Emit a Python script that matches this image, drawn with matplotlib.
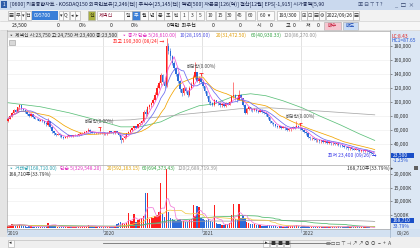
import numpy as np
import pandas as pd
import matplotlib
matplotlib.use("Agg")
import matplotlib.pyplot as plt
from matplotlib.patches import Rectangle

plt.rcParams["font.family"] = ["Noto Sans CJK KR", "DejaVu Sans"]

# ----------------------------
# DATA  (weekly bars from 2019-01-21, prices in thousand won, volume in K shares)
# ----------------------------

start_date = "2019-01-21"

open_k = [72, 76, 80, 84, 88, 86, 92, 95, 90, 88,
          85, 83, 80, 82, 78, 76, 75, 73, 74, 72,
          70, 67, 72, 64, 58, 55, 53, 54, 52, 50,
          49, 50, 51, 52, 51, 52, 53, 52, 54, 55,
          56, 57, 58, 60, 57, 56, 55, 56, 55, 56,
          55, 55, 54, 56, 58, 57, 55, 58, 56, 52,
          45, 48, 50, 55, 57, 60, 62, 65, 63, 68,
          70, 72, 86, 82, 92, 95, 98, 103, 110, 120,
          126, 138, 128, 123, 180, 172, 165, 155, 148, 140,
          130, 118, 112, 120, 115, 110, 120, 125, 135, 142,
          130, 134, 128, 122, 115, 108, 100, 98, 96, 102,
          100, 98, 95, 97, 94, 98, 96, 100, 108, 110,
          105, 103, 110, 105, 96, 84, 90, 92, 89, 88,
          90, 87, 86, 88, 85, 84, 82, 78, 72, 70,
          68, 66, 64, 65, 63, 64, 62, 60, 61, 62,
          64, 63, 66, 63, 62, 60, 57, 55, 50, 48,
          49, 47, 45, 46, 44, 45, 43, 44, 42, 43,
          41, 42, 40, 41, 39, 38, 37, 36, 35, 34,
          35, 33, 32, 33, 31, 30, 31, 29.5, 31, 30,
          28, 27, 23.75]

high_k = [77, 81, 86, 89, 90, 93, 97, 95, 91, 89,
          86, 84, 83, 83, 79, 77, 76, 75, 75, 73,
          71, 77, 73, 65, 59, 56, 55, 55, 53, 51,
          51, 52, 53, 53, 53, 54, 54, 55, 56, 57,
          58, 59, 63, 61, 58, 57, 57, 57, 57, 57,
          57, 56, 57, 59, 59, 58, 59, 59, 57, 53,
          49, 52, 56, 58, 61, 63, 66, 66, 69, 71,
          74, 88, 89, 94, 97, 100, 106, 114, 124, 129,
          141, 140, 131, 190.3, 184, 176, 167, 158, 150, 142,
          131, 120, 124, 121, 117, 122, 128, 138, 157, 143,
          137, 135, 131, 123, 116, 109, 102, 100, 104, 103,
          101, 99, 98, 98, 99, 99, 101, 110, 128, 111,
          106, 117, 111, 106, 97, 91, 94, 93, 90, 91,
          91, 88, 89, 89, 86, 85, 83, 79, 73, 71,
          69, 67, 66, 66, 65, 65, 63, 62, 63, 65,
          65, 73, 67, 64, 63, 61, 58, 56, 51, 50,
          50, 48, 47, 47, 46, 46, 45, 45, 44, 44,
          43, 43, 42, 42, 40, 39, 38, 37, 36, 36,
          36, 34, 34, 34, 32, 32, 32, 32, 32, 31,
          29, 28, 24.75]

low_k = [71, 75, 79, 83, 85, 85, 89, 88, 87, 84,
         81, 79, 79, 77, 75, 74, 72, 72, 71, 69,
         66, 66, 62, 56, 53, 51, 52, 50, 48, 47,
         48, 49, 50, 50, 50, 51, 51, 51, 53, 54,
         55, 56, 57, 56, 55, 54, 54, 54, 54, 54,
         53, 53, 53, 55, 56, 54, 54, 55, 51, 41,
         43, 47, 49, 54, 56, 59, 61, 62, 62, 67,
         69, 71, 80, 80, 90, 93, 97, 102, 108, 118,
         124, 126, 120, 121, 168, 160, 152, 145, 136, 127,
         114, 108, 110, 112, 107, 108, 118, 123, 132, 128,
         127, 126, 120, 112, 105, 97, 95, 94, 94, 98,
         96, 93, 93, 92, 93, 95, 95, 99, 106, 103,
         100, 102, 103, 94, 82, 83, 88, 87, 86, 87,
         86, 84, 85, 84, 83, 80, 76, 70, 68, 66,
         64, 62, 63, 61, 62, 60, 58, 58, 59, 61,
         61, 62, 62, 60, 58, 55, 53, 48, 46, 46,
         45, 43, 43, 42, 42, 41, 41, 40, 40, 39,
         39, 38, 38, 37, 36, 35, 34, 33, 32, 32,
         32, 31, 31, 30, 29, 29, 28, 28.5, 29, 27,
         26, 24.5, 23.4]

close_k = [76, 80, 84, 88, 86, 92, 95, 90, 88, 85,
           83, 80, 82, 78, 76, 75, 73, 74, 72, 70,
           68, 72, 64, 58, 55, 53, 54, 52, 50, 49,
           50, 51, 52, 51, 52, 53, 52, 54, 55, 56,
           57, 58, 60, 57, 56, 55, 56, 55, 56, 55,
           55, 54, 56, 58, 57, 55, 58, 56, 52, 45,
           48, 50, 55, 57, 60, 62, 65, 63, 68, 70,
           72, 86, 82, 92, 95, 98, 103, 110, 120, 126,
           138, 128, 122, 180, 172, 165, 155, 148, 140, 130,
           118, 112, 120, 115, 110, 120, 125, 135, 142, 130,
           134, 128, 122, 115, 108, 100, 98, 96, 102, 100,
           98, 95, 97, 94, 98, 96, 100, 108, 110, 105,
           103, 110, 105, 96, 84, 90, 92, 89, 88, 90,
           87, 86, 88, 85, 84, 82, 78, 72, 70, 68,
           66, 64, 65, 63, 64, 62, 60, 61, 62, 64,
           63, 66, 63, 62, 60, 57, 55, 50, 48, 49,
           47, 45, 46, 44, 45, 43, 44, 42, 43, 41,
           42, 40, 41, 39, 38, 37, 36, 35, 34, 35,
           33, 32, 33, 31, 30, 31, 29.5, 31, 30, 28,
           27, 25, 23.5]

volume_k = [900, 1200, 1500, 1400, 1100, 1300, 1800, 1200, 900, 800,
            700, 800, 900, 700, 600, 650, 700, 600, 650, 700,
            800, 2200, 1300, 1400, 1000, 800, 700, 600, 650, 700,
            600, 550, 600, 500, 550, 600, 500, 650, 700, 900,
            800, 900, 1400, 1000, 800, 700, 600, 550, 650, 700,
            600, 500, 600, 700, 600, 550, 900, 1500, 2000, 2300,
            2100, 1800, 2200, 5800, 3000, 2800, 5300, 2500, 3200, 3500,
            3800, 4600, 13150, 13000, 3500, 4300, 4000, 4500, 4800, 6000,
            16800, 5500, 4300, 22000, 6000, 3900, 3500, 3000, 2800, 3200,
            3600, 2900, 2600, 2500, 2400, 3000, 3500, 8600, 4500, 8400,
            8000, 3800, 3500, 3200, 3000, 3500, 2800, 2400, 8750, 2200,
            1800, 1500, 1400, 1300, 1600, 1800, 2000, 5000, 9000, 3500,
            3000, 9000, 3800, 4900, 3750, 2500, 2000, 1800, 1500, 1600,
            1400, 1300, 1200, 1100, 1000, 1100, 1300, 1200, 1000, 900,
            800, 700, 900, 800, 700, 650, 800, 900, 1000, 1100,
            900, 1300, 800, 700, 900, 1000, 800, 900, 700, 600,
            650, 600, 700, 550, 600, 500, 550, 500, 600, 550,
            600, 550, 600, 800, 700, 650, 600, 700, 750, 650,
            600, 700, 650, 750, 700, 650, 600, 700, 480, 420,
            330, 250, 168.71]

# long moving averages (bar index, thousand won)
ma60_idx = [0, 17, 32, 48, 59, 69, 80, 90, 100, 108, 119, 127, 135, 144, 154, 163, 174, 184, 192]
ma60_val = [98.6, 92.9, 84.3, 72.9, 64.3, 64.3, 71.4, 84.3, 94.3, 97.1, 108.6, 111.4, 108.6,
            101.4, 91.4, 80.0, 67.1, 54.3, 45.0]
ma120_idx = [47, 64, 80, 95, 106, 121, 137, 153, 169, 192]
ma120_val = [72.9, 74.3, 78.6, 82.9, 85.7, 90.0, 91.4, 88.6, 85.7, 81.4]

ex_div_dates = ["2019-12-27", "2020-12-30", "2021-12-29"]

price_ticks = [40000, 60000, 80000, 100000, 120000, 140000, 160000, 180000]
volume_ticks = [5000, 10000, 15000, 20000]

title_text = ("[0600] 키움종합차트 - KOSDAQ150 외국인보유[2,246(천)] 주식수[25,145(천)] "
              "액면[500] 자본금[126(억)] 결산[12월] EPS[-1,915] 시가총액[5,90")

price_header = "▫ 제넥신 시:23,750 고:24,750 저:23,400 종:23,500"
price_ma_labels = ["▫ 종가 단순 5(26,610.00)", "10(28,195.00)", "20(31,472.50)",
                   "60(40,930.33)", "120(86,270.00)"]
volume_ma_labels = ["▫ 거래량(168,710.00)", "단순 5(329,548.20)", "20(592,163.15)",
                    "60(694,373.43)", "120(2,689,719.39)"]

# ----------------------------
# LAYOUT / STYLE
# ----------------------------

W, H = 420, 248
BAR_X0, BAR_DX = 8.0, 1.91
PLOT_X0, PLOT_X1 = 7, 390
UP, DOWN = "#ff1e1e", "#2a6bd9"
MA_COL = {5: "#f05ad8", 10: "#6a6af0", 20: "#f2a400", 60: "#5cc07a", 120: "#a8a8a8"}
VMA_COL = {5: "#f07ad8", 20: "#f3c94a", 60: "#4cb86a", 120: "#a0a0a0"}
FS = 3.5


def px_axes(fig, x0, y0, x1, y1, z):
    ax = fig.add_axes([x0 / W, 1 - y1 / H, (x1 - x0) / W, (y1 - y0) / H])
    ax.set_zorder(z)
    return ax


def box(ax, x0, y0, x1, y1, fc, ec="none", lw=0.5):
    ax.add_patch(Rectangle((x0, y0), x1 - x0, y1 - y0, facecolor=fc, edgecolor=ec, linewidth=lw))


def txt(ax, x, y, s, size=FS, color="#202020", ha="left", **kw):
    ax.text(x, y, s, fontsize=size, color=color, ha=ha, va="center", **kw)


def btn(ax, x0, x1, label, fc="#fbfbfb", color="#303030", y0=11, y1=19.5):
    box(ax, x0, y0, x1, y1, fc, ec="#a9a9a9", lw=0.4)
    if label:
        txt(ax, (x0 + x1) / 2, (y0 + y1) / 2, label, 3.6, color, ha="center")


# ----------------------------
# WINDOW CHROME
# ----------------------------

def draw_chrome(bg):
    box(bg, 0, 0, W, H, "#f0f0f0")

    # title bar
    box(bg, 0, 0, W, 9.5, "#cad9ee")
    box(bg, 1, 1.2, 7, 8.2, "#2d5ca8")
    txt(bg, 4, 4.8, "1", 3.4, "white", ha="center")
    txt(bg, 9.5, 4.8, title_text, 3.75, "#15204a")
    txt(bg, 358, 4.8, "▣ ⊟ ⊤ T ?", 3.8, "#30406a")
    txt(bg, 395, 4.6, "_  □  ×", 4.0, "#30406a")

    # toolbar
    box(bg, 0, 9.5, W, 20.5, "#f2f2f2")
    btn(bg, 8, 14, "▦")
    btn(bg, 15, 21, "무")
    btn(bg, 21, 25, "▾")
    btn(bg, 26, 31, "전")
    box(bg, 32, 11, 58, 19.5, "#3b7fd8")
    txt(bg, 34, 15.2, "095700", 3.7, "white")
    btn(bg, 59, 63, "▾")
    btn(bg, 63, 69, "Q")
    btn(bg, 70, 75, "◂")
    btn(bg, 75, 80, "▸")
    btn(bg, 88, 95, "신", fc="#a9b040", color="#2b2b10")
    box(bg, 97, 11, 124, 19.5, "white", ec="#a9a9a9", lw=0.4)
    txt(bg, 99, 15.2, "제넥신", 3.7, "#8b1a3a")
    periods = ["일", "주", "월", "년", "분", "초", "틱", "1", "3", "5", "10", "15", "30", "45", "60"]
    centers = [128, 136, 144, 152, 160, 168, 176, 184, 192, 200, 210, 220, 230, 240, 250]
    for lab, c in zip(periods, centers):
        w = 7.5 if len(lab) == 1 else 9
        if lab == "주":
            btn(bg, c - w / 2, c + w / 2, lab, fc="#3b7fd8", color="white")
        else:
            btn(bg, c - w / 2, c + w / 2, lab)
    btn(bg, 257, 274, "60  ▾")
    box(bg, 277, 11, 299, 19.5, "white", ec="#a9a9a9", lw=0.4)
    txt(bg, 288, 15.2, "193/300", 3.6, "#202020", ha="center")
    for k, g in enumerate(["⊞", "⊡", "▤", "⚙"]):
        btn(bg, 301 + k * 6, 306.5 + k * 6, g)
    box(bg, 326, 11, 353, 19.5, "white", ec="#a9a9a9", lw=0.4)
    txt(bg, 339.5, 15.2, "2022/09/26", 3.6, "#202020", ha="center")
    btn(bg, 353, 359, "▤")

    # quote row
    box(bg, 0, 20.5, W, 30.5, "#f6f6f6")
    bg.plot([0, W], [20.7, 20.7], color="#c8c8c8", lw=0.4)
    bg.plot([0, W], [30.3, 30.3], color="#c8c8c8", lw=0.4)
    quote = [(12, "23,500"), (57, "0"), (79, "0%"), (110, "0"), (131, "0%"),
             (167, "0백만  최우선"), (212, "0"), (239, "0"), (257, "시"), (270, "0"),
             (286, "고"), (293, "0"), (306, "저"), (317, "0")]
    for x, s in quote:
        txt(bg, x, 25.8, s, 3.7, "#202020")
    btn(bg, 324, 341, "매수", fc="#f5c6d0", color="#c01030", y0=21.8, y1=29.5)
    btn(bg, 343, 358, "매도", fc="#c9dcf5", color="#1040b0", y0=21.8, y1=29.5)

    # left strip, right scale panel, date band
    box(bg, 0, 30.5, 7, 237, "#e4e4e4")
    box(bg, PLOT_X1, 30.5, W, 229, "#dce7f4")
    box(bg, 7, 229, W, 237, "#d3e1f1")
    bg.plot([PLOT_X1, PLOT_X1], [30.5, 237], color="#9fb2c8", lw=0.5)

    # bottom scroll / tool bar
    box(bg, 0, 237, W, H, "#efefef")
    btn(bg, 7.5, 13.5, "◂", y0=239.5, y1=246.5)
    bg.plot([14, 330], [240.2, 240.2], color="#c0c0c0", lw=0.5)
    bg.plot([103, 330], [243.2, 243.2], color="#707070", lw=0.6)
    for k in range(4):
        btn(bg, 263 + k * 7, 269 + k * 7, "▸" if k == 0 else "■", y0=239.5, y1=246.5)
    txt(bg, 326, 243, "▭▭▭ ⊤ ⊣ ↗ ↗ ⊘ ⊙  −  +  A", 3.6, "#404040")


# ----------------------------
# PRICE PANEL
# ----------------------------

def draw_price(ax, df, year_idx, ex_idx):
    n = len(df)
    x = np.arange(n)
    up = df["Close"] >= df["Open"]
    colors = np.where(up, UP, DOWN)

    ax.vlines(x, df["Low"], df["High"], colors=colors, lw=0.4, zorder=3)
    body = (df["Close"] - df["Open"]).abs().clip(lower=400)
    ax.bar(x, body, bottom=df[["Open", "Close"]].min(axis=1), width=0.72,
           color=colors, linewidth=0, zorder=4)

    for w in [20, 10, 5]:
        ma = df["Close"].rolling(w, min_periods=1).mean()
        ax.plot(x, ma, color=MA_COL[w], lw=0.55, zorder=5)
    ax.plot(ma60_idx, np.array(ma60_val) * 1000, color=MA_COL[60], lw=0.55, zorder=2)
    ax.plot(ma120_idx, np.array(ma120_val) * 1000, color=MA_COL[120], lw=0.55, zorder=2)

    px = 20000 / 14  # won per pixel on this scale
    for i in ex_idx:
        top = df["High"].iloc[i]
        ax.vlines(i, top + 1.0 * px, top + 4.5 * px, color="#ff1e1e", lw=0.6, zorder=6)
        ax.hlines([top + 4.5 * px], i - 0.9, i + 0.9, color="#ff1e1e", lw=0.6, zorder=6)
        ax.annotate("배당락(0.00%)", xy=(i, top + 4.5 * px), xytext=(0, 6.5),
                    textcoords="offset pixels", ha="center", va="center",
                    fontsize=3.4, color="#505050", zorder=7)

    hi = int(df["High"].values.argmax())
    ax.annotate("최고 190,300 (08/24) →", xy=(hi, df["High"].iloc[hi]), xytext=(-2, -2.5),
                textcoords="offset pixels", ha="right", va="center", fontsize=3.5,
                color="#ff1e1e", zorder=7)
    ax.annotate("최저 23,400 (09/26) →", xy=(n - 1, df["Low"].iloc[-1]), xytext=(2, 0),
                textcoords="offset pixels", ha="right", va="center", fontsize=3.5,
                color="#3535e8", zorder=7)

    for i in year_idx[1:]:
        ax.axvline(i - 0.5, color="#d6d6d6", lw=0.5, zorder=1)
    ax.set_yticks(price_ticks)
    ax.set_yticklabels([f"{t:,}" for t in price_ticks])
    ax.grid(axis="y", color="#ececec", lw=0.4, zorder=0)
    ax.set_ylim((172 - 164.5) * px, (172 - 31) * px)


# ----------------------------
# VOLUME PANEL
# ----------------------------

def draw_volume(ax, df, year_idx):
    x = np.arange(len(df))
    up = df["Close"] >= df["Open"]
    ax.bar(x, df["Volume"], width=0.72, color=np.where(up, UP, DOWN), linewidth=0, zorder=3)
    for w in [120, 60, 20, 5]:
        ma = df["Volume"].rolling(w, min_periods=1).mean()
        ax.plot(x, ma, color=VMA_COL[w], lw=0.55, zorder=4)
    for i in year_idx[1:]:
        ax.axvline(i - 0.5, color="#d6d6d6", lw=0.5, zorder=1)
    ax.set_yticks(volume_ticks)
    ax.set_yticklabels([f"{t:,}K" for t in volume_ticks])
    ax.grid(axis="y", color="#ececec", lw=0.4, zorder=0)
    ax.set_ylim(-(229 - 228.5) / 13.5 * 5000, (228.5 - 165) / 13.5 * 5000)


def style_axes(ax):
    ax.set_xlim((PLOT_X0 - BAR_X0) / BAR_DX, (PLOT_X1 - BAR_X0) / BAR_DX)
    ax.yaxis.tick_right()
    ax.tick_params(axis="y", length=1.5, width=0.4, pad=1, labelsize=3.5,
                   colors="#404040", labelcolor="#303030")
    ax.tick_params(axis="x", bottom=False, labelbottom=False)
    for s in ax.spines.values():
        s.set_color("#a8a8a8")
        s.set_linewidth(0.5)


# ----------------------------
# MAIN
# ----------------------------

def main():
    df = pd.DataFrame({"Open": open_k, "High": high_k, "Low": low_k, "Close": close_k})
    df = df * 1000
    df["Volume"] = volume_k
    dates = pd.date_range(start_date, periods=len(df), freq="7D")
    year_idx = [0] + [i for i in range(1, len(dates)) if dates[i].year != dates[i - 1].year]
    ex_idx = [int(dates.searchsorted(pd.Timestamp(d), side="right")) - 1 for d in ex_div_dates]

    fig = plt.figure(figsize=(W / 100, H / 100), dpi=100)

    bg = px_axes(fig, 0, 0, W, H, 0)
    bg.set_xlim(0, W)
    bg.set_ylim(H, 0)
    bg.axis("off")
    draw_chrome(bg)

    ax = px_axes(fig, PLOT_X0, 30.5, PLOT_X1, 164.5, 2)
    axv = px_axes(fig, PLOT_X0, 164.5, PLOT_X1, 229, 2)
    style_axes(ax)
    style_axes(axv)
    draw_price(ax, df, year_idx, ex_idx)
    draw_volume(axv, df, year_idx)

    # overlay texts
    ov = px_axes(fig, 0, 0, W, H, 5)
    ov.set_xlim(0, W)
    ov.set_ylim(H, 0)
    ov.axis("off")

    txt(ov, 9, 35, price_header, FS, "#303030",
        bbox=dict(boxstyle="square,pad=0.15", fc="#e6e6e6", ec="none"))
    for x, s, c in zip([122, 180, 216, 251, 284], price_ma_labels,
                       ["#e030c0", "#4a4ae0", "#e09a00", "#30a040", "#909090"]):
        txt(ov, x, 35, s, FS, c)
    box(ov, 9, 39.5, 15, 45, "#d8d8d8", ec="#9a9a9a", lw=0.4)
    txt(ov, 391, 36, "LC:8.43", FS, "#e02020")
    txt(ov, 391, 41, "HC1=87.65", FS, "#2050d0")

    for x, s, c in zip([9, 60, 107, 142, 178], volume_ma_labels,
                       ["#2aa0b0", "#e030c0", "#e0a000", "#30a040", "#909090"]):
        txt(ov, x, 168, s, FS, c)
    txt(ov, 9, 174, "168,710주(33.79%)", FS, "#303030")
    txt(ov, 347, 168, "168,710주(33.79%) ▸", FS, "#303030")
    box(ov, 413.5, 166, 418, 170, "#606060")

    box(ov, 391, 152.5, 414, 157.8, "#1a4fc8")
    txt(ov, 393, 155.2, "23,500", FS, "white")
    txt(ov, 393, 161, "-1.25%", FS, "#2050d0")
    box(ov, 391, 218, 414, 223.4, "#1a4fc8")
    txt(ov, 393, 220.8, "168,710", FS, "white")
    txt(ov, 393, 226.5, "33.79%", FS, "#2050d0")

    for i in year_idx:
        xp = BAR_X0 + (i - 0.5) * BAR_DX
        ov.plot([xp, xp], [229, 231.5], color="#8090a8", lw=0.4)
        txt(ov, xp + 1.2, 233.2, str(dates[i].year), FS, "#404040")
    txt(ov, 397, 233.2, dates[-1].strftime("%m/%d"), FS, "#404040")

    fig.savefig("out.png", dpi=100)


if __name__ == "__main__":
    main()
